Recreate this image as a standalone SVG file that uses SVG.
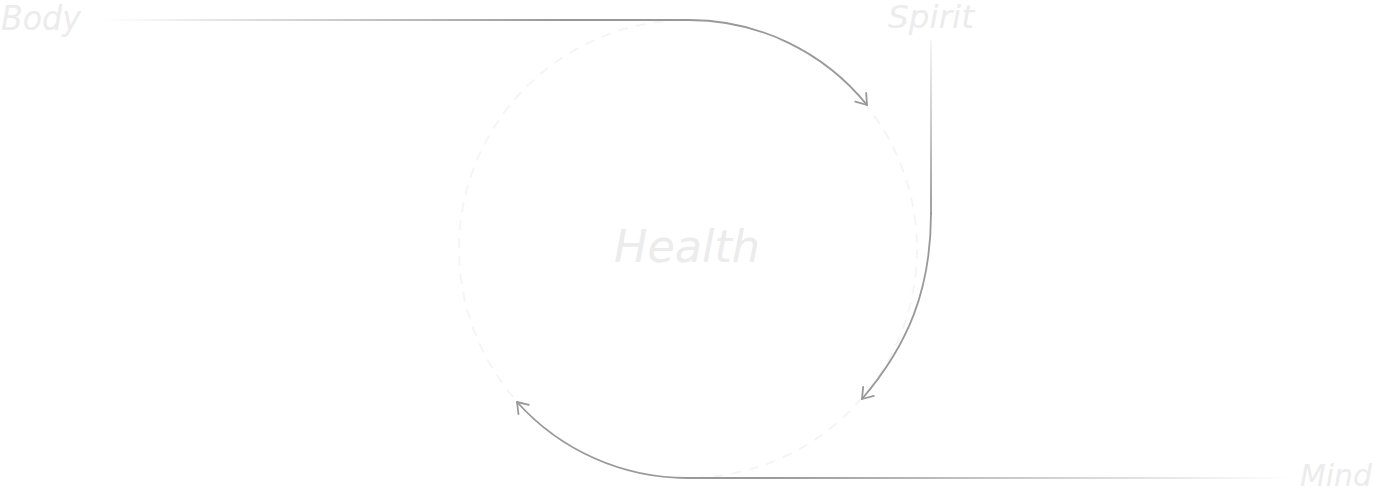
<svg xmlns="http://www.w3.org/2000/svg" width="1380" height="491" viewBox="0 0 1380 491">
<style>
.lbl{font-family:"DejaVu Sans","Liberation Sans",sans-serif;font-style:italic;font-weight:200;fill:#ececec}
.conn{fill:none;stroke:#999;stroke-width:1.8;stroke-linecap:round}
.ring{fill:none;stroke:#f5f5f5;stroke-width:2;stroke-dasharray:10 8}
</style>
<defs>
<marker id="arr" markerWidth="20" markerHeight="20" refX="0" refY="0" viewBox="-13 -10 16 20" orient="auto" markerUnits="userSpaceOnUse">
<path d="M-10,-7 L0,0 L-10,7" fill="none" stroke="#999" stroke-width="1.8" stroke-linecap="round" stroke-linejoin="round"/>
</marker>
<linearGradient id="gBody" gradientUnits="userSpaceOnUse" x1="105" y1="0" x2="560" y2="0">
<stop offset="0" stop-color="#999" stop-opacity="0"/>
<stop offset="1" stop-color="#999" stop-opacity="1"/>
</linearGradient>
<linearGradient id="gSpirit" gradientUnits="userSpaceOnUse" x1="0" y1="40" x2="0" y2="200">
<stop offset="0" stop-color="#999" stop-opacity="0.1"/>
<stop offset="1" stop-color="#999" stop-opacity="1"/>
</linearGradient>
<linearGradient id="gMind" gradientUnits="userSpaceOnUse" x1="1290" y1="0" x2="760" y2="0">
<stop offset="0" stop-color="#999" stop-opacity="0"/>
<stop offset="1" stop-color="#999" stop-opacity="1"/>
</linearGradient>
</defs>
<g id="health">
<circle class="ring" cx="688" cy="249" r="229"/>
<text class="lbl" x="614" y="262" font-size="44" textLength="146" lengthAdjust="spacingAndGlyphs">Health</text>
</g>
<g id="body"><text class="lbl" x="1" y="30" font-size="34" textLength="80" lengthAdjust="spacingAndGlyphs">Body</text></g>
<g id="spirit"><text class="lbl" x="888" y="28" font-size="32" textLength="86" lengthAdjust="spacingAndGlyphs">Spirit</text></g>
<g id="mind"><text class="lbl" x="1300" y="486" font-size="31" textLength="72" lengthAdjust="spacingAndGlyphs">Mind</text></g>
<g id="connectors">
<path d="M105,20 L690,20" stroke="url(#gBody)" stroke-width="1.8" fill="none"/>
<path class="conn" d="M689,20 A229,229 0 0 1 867,105" marker-end="url(#arr)"/>
<path d="M931,40 L931,215" stroke="url(#gSpirit)" stroke-width="1.8" fill="none"/>
<path class="conn" d="M931,213 C931,290 908,345 862,399" marker-end="url(#arr)"/>
<path d="M1290,478 L686,478" stroke="url(#gMind)" stroke-width="1.8" fill="none"/>
<path class="conn" d="M688,478 A229,229 0 0 1 517,402" marker-end="url(#arr)"/>
</g>
</svg>
